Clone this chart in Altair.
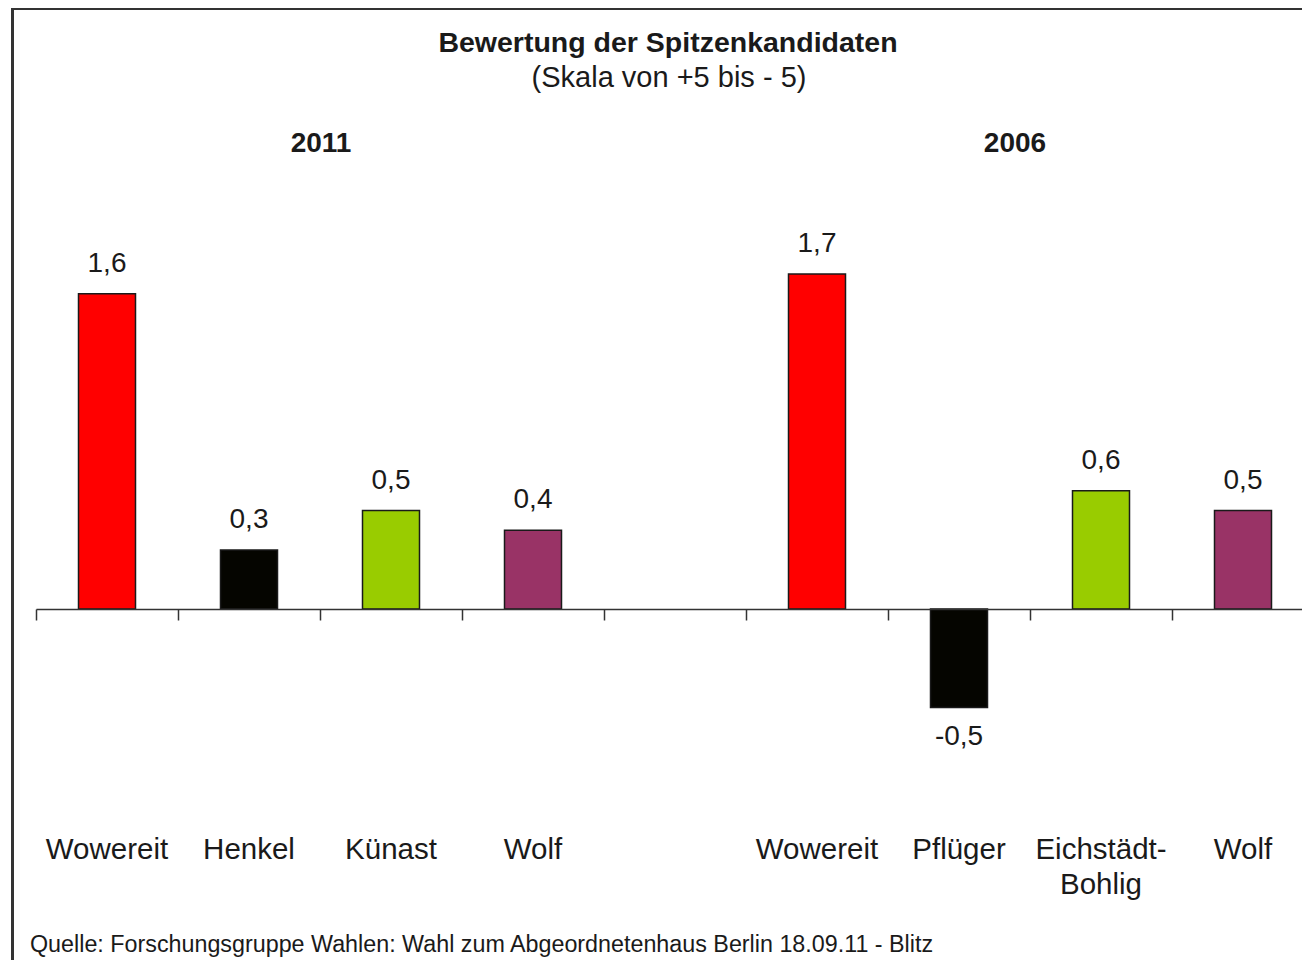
import altair as alt
import pandas as pd

# ---- data ----
years = ["2011", "2011", "2011", "2011", "2006", "2006", "2006", "2006"]
candidates = ["Wowereit", "Henkel", "Künast", "Wolf",
              "Wowereit", "Pflüger", "Eichstädt-\nBohlig", "Wolf"]
values = [1.6, 0.3, 0.5, 0.4, 1.7, -0.5, 0.6, 0.5]
colors = ["#FF0000", "#050500", "#99CC00", "#993366",
          "#FF0000", "#050500", "#99CC00", "#993366"]

title_text = "Bewertung der Spitzenkandidaten"
subtitle_text = "(Skala von +5 bis - 5)"
source_text = "Quelle: Forschungsgruppe Wahlen: Wahl zum Abgeordnetenhaus Berlin 18.09.11 - Blitz"

keys = [f"{y} {c.replace(chr(10), ' ')}" for y, c in zip(years, candidates)]
slot_order = keys[:4] + ["gap"] + keys[4:]

df = pd.DataFrame({"key": keys, "year": years, "name": candidates,
                   "value": values, "color": colors})

FONT = "Liberation Sans"
TXT = "#1a1a1a"

W, H = 1266, 591

xenc = alt.X("key:N",
             scale=alt.Scale(domain=slot_order, range=[0, 1278],
                             paddingInner=0, paddingOuter=0),
             axis=alt.Axis(title=None, labels=False, grid=False, bandPosition=0,
                           ticks=True, tickSize=11, tickWidth=1.5, tickColor="#333",
                           domain=True, domainColor="#333", domainWidth=1.5,
                           offset=-197, zindex=1))
yenc = alt.Y("value:Q", scale=alt.Scale(domain=[-1, 2], nice=False, zero=False), axis=None)

base = alt.Chart(df)

bars = base.mark_bar(size=57, stroke="#1a1a1a", strokeWidth=1.5).encode(
    x=xenc, y=yenc, color=alt.Color("color:N", scale=None)
)

lab = base.transform_calculate(label="replace('' + datum.value, '.', ',')")

pos_labels = lab.transform_filter("datum.value >= 0").mark_text(
    dy=-22, baseline="alphabetic", fontSize=28, font=FONT, color=TXT
).encode(x=xenc, y=yenc, text="label:N")

neg_labels = lab.transform_filter("datum.value < 0").mark_text(
    dy=37, baseline="alphabetic", fontSize=28, font=FONT, color=TXT
).encode(x=xenc, y=yenc, text="label:N")

cat_labels = base.mark_text(
    baseline="alphabetic", fontSize=29.5, font=FONT, color=TXT,
    lineBreak="\n", lineHeight=35
).encode(x=xenc, y=alt.value(644), text="name:N")


def note(text, x, y, size, bold=False, align="center"):
    return alt.Chart(pd.DataFrame({"t": [text]})).mark_text(
        fontSize=size, font=FONT, color=TXT, align=align, baseline="alphabetic",
        fontWeight="bold" if bold else "normal"
    ).encode(x=alt.value(x), y=alt.value(y), text="t:N")


title = note(title_text, 632, -163, 28.5, bold=True)
subtitle = note(subtitle_text, 633, -128, 29)
y2011 = note("2011", 285, -63, 28, bold=True)
y2006 = note("2006", 979, -63, 28, bold=True)
source = note(source_text, -6, 737, 23.3, align="left")

frame = alt.Chart(pd.DataFrame({"a": [0]})).mark_rect(
    fill="transparent", stroke="#333", strokeWidth=3
).encode(x=alt.value(-23.5), x2=alt.value(1400), y=alt.value(-206.5), y2=alt.value(1000))

chart = alt.layer(
    frame, bars, pos_labels, neg_labels, cat_labels,
    title, subtitle, y2011, y2006, source
).properties(
    width=W, height=H,
    autosize="none",
    padding={"left": 28, "top": 207, "right": 0, "bottom": 154},
    background="white"
).configure_view(stroke=None)

chart.save("out.html", embed_options={"renderer": "svg", "actions": False})
